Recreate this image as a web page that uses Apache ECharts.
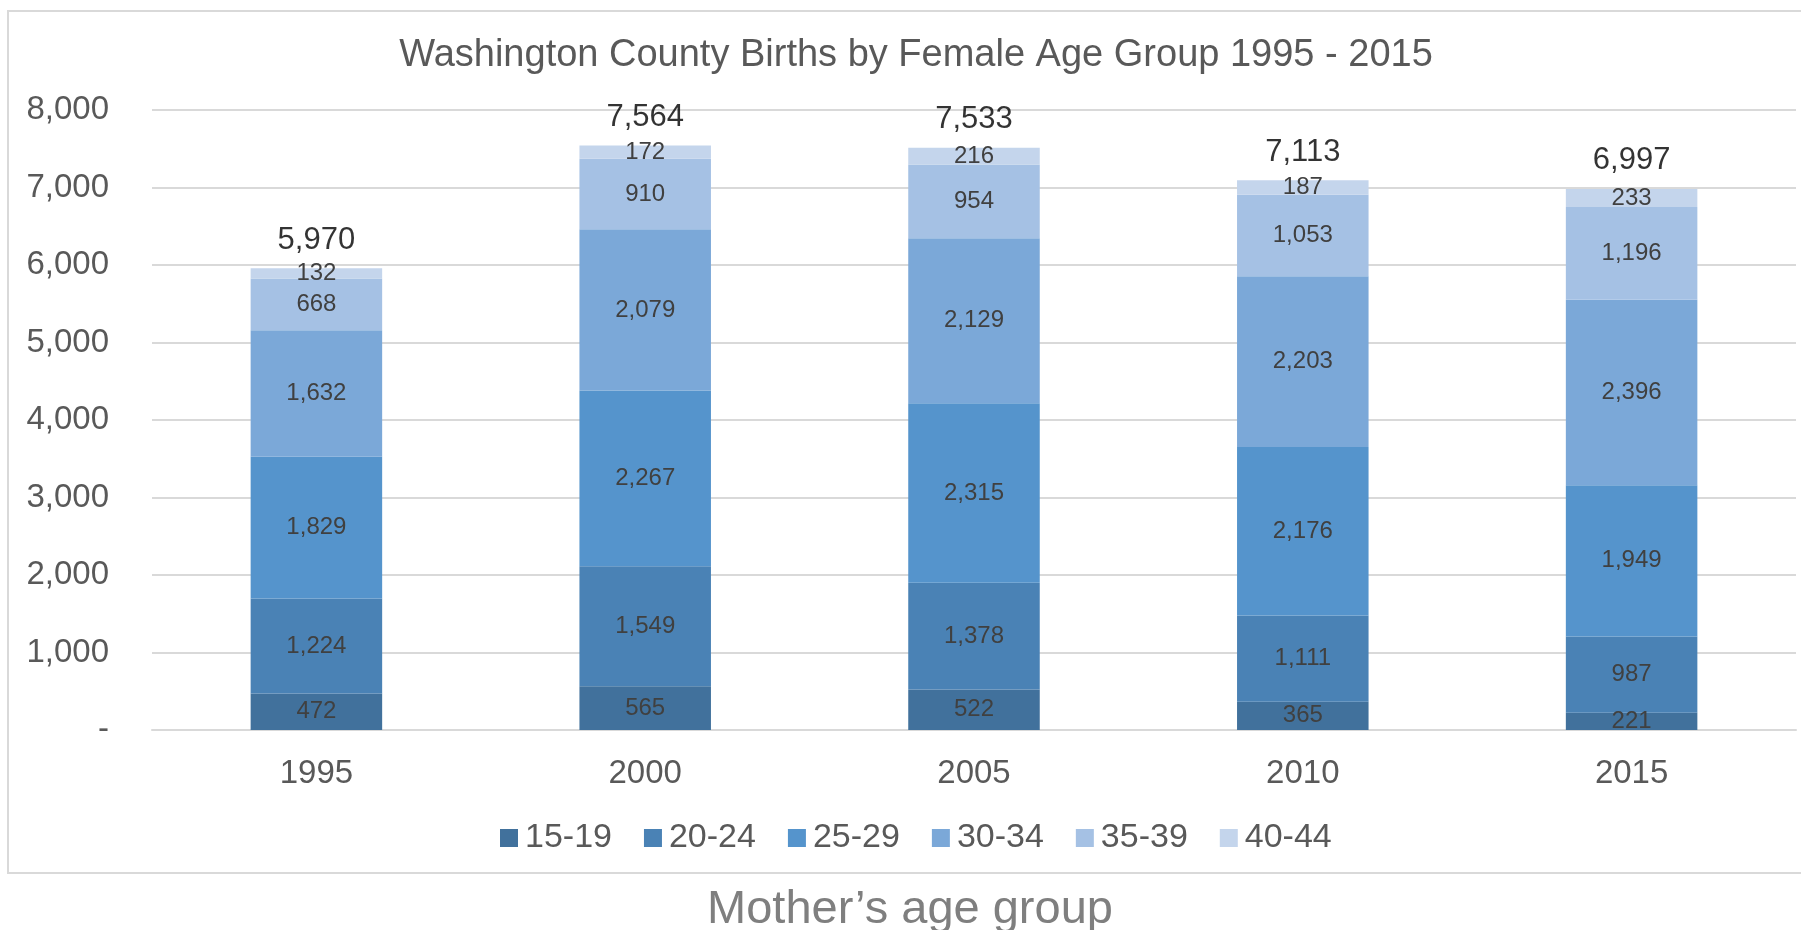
<!DOCTYPE html>
<html>
<head>
<meta charset="utf-8">
<script src="https://cdn.jsdelivr.net/npm/echarts@6/dist/echarts.min.js"></script>
<style>
html,body{margin:0;padding:0;background:#fff;}
#chart{width:1801px;height:930px;}
</style>
</head>
<body>
<div id="chart"></div>
<script>
const years = ['1995', '2000', '2005', '2010', '2015'];
const ageGroups = ['15-19', '20-24', '25-29', '30-34', '35-39', '40-44'];
const age15_19 = [472, 565, 522, 365, 221];
const age20_24 = [1224, 1549, 1378, 1111, 987];
const age25_29 = [1829, 2267, 2315, 2176, 1949];
const age30_34 = [1632, 2079, 2129, 2203, 2396];
const age35_39 = [668, 910, 954, 1053, 1196];
const age40_44 = [132, 172, 216, 187, 233];
const totals = [5970, 7564, 7533, 7113, 6997];
const yTicks = [0, 1000, 2000, 3000, 4000, 5000, 6000, 7000, 8000];

const seriesValues = [age15_19, age20_24, age25_29, age30_34, age35_39, age40_44];
const colors = ['#41719C', '#4A82B5', '#5594CC', '#7BA8D8', '#A5C1E4', '#C4D5EC'];
const FONT = 'Liberation Sans, Arial, sans-serif';
const fmt = v => Number(v).toLocaleString('en-US');

const stackTops = years.map((_, i) => seriesValues.reduce((s, arr) => s + arr[i], 0));

const chart = echarts.init(document.getElementById('chart'), null, {renderer: 'canvas'});

const barSeries = ageGroups.map((name, k) => ({
  name: name,
  type: 'bar',
  stack: 'births',
  barWidth: '40%',
  data: seriesValues[k],
  itemStyle: {color: colors[k]},
  label: {
    show: true,
    position: 'inside',
    color: '#404040',
    fontFamily: FONT,
    fontSize: 24,
    formatter: p => fmt(p.value)
  },
  emphasis: {disabled: true}
}));

const option = {
  animation: false,
  backgroundColor: '#ffffff',
  color: colors,
  textStyle: {fontFamily: FONT},
  title: [{
    text: 'Washington County Births by Female Age Group 1995 - 2015',
    left: 911, top: 32, textAlign: 'center',
    textStyle: {fontFamily: FONT, fontSize: 38, fontWeight: 'normal', color: '#595959'}
  }, {
    text: 'Mother\u2019s age group',
    left: 905, top: 882, textAlign: 'center',
    textStyle: {fontFamily: FONT, fontSize: 47, fontWeight: 'normal', color: '#7f7f7f'}
  }],
  graphic: [{
    type: 'rect',
    shape: {x: 8, y: 11, width: 1800, height: 862},
    style: {fill: 'none', stroke: '#d9d9d9', lineWidth: 2},
    silent: true, z: -1
  }],
  legend: {
    data: ageGroups,
    left: 495, top: 816,
    itemWidth: 18, itemHeight: 18, itemGap: 32,
    icon: 'rect',
    textStyle: {fontFamily: FONT, fontSize: 34, color: '#595959', padding: [0, 0, 0, 2]}
  },
  grid: {left: 152, right: 5, top: 110, bottom: 200, containLabel: false},
  xAxis: {
    type: 'category',
    data: years,
    axisLine: {lineStyle: {color: '#d9d9d9', width: 2}},
    axisTick: {show: false},
    axisLabel: {fontFamily: FONT, fontSize: 33, color: '#595959', margin: 27}
  },
  yAxis: {
    type: 'value',
    min: yTicks[0], max: yTicks[yTicks.length - 1], interval: 1000,
    axisLine: {show: false},
    axisTick: {show: false},
    splitLine: {lineStyle: {color: '#d9d9d9', width: 2}},
    axisLabel: {
      fontFamily: FONT, fontSize: 33, color: '#595959', margin: 43,
      formatter: v => v === 0 ? '-' : fmt(v)
    }
  },
  series: barSeries.concat([{
    name: 'Total',
    type: 'scatter',
    data: stackTops,
    symbolSize: 1,
    itemStyle: {color: 'rgba(0,0,0,0)'},
    z: 10,
    label: {
      show: true,
      position: 'top',
      distance: 12,
      color: '#000000',
      fontFamily: FONT,
      fontSize: 31,
      formatter: p => fmt(totals[p.dataIndex])
    },
    emphasis: {disabled: true}
  }])
};

chart.setOption(option);
</script>
</body>
</html>
